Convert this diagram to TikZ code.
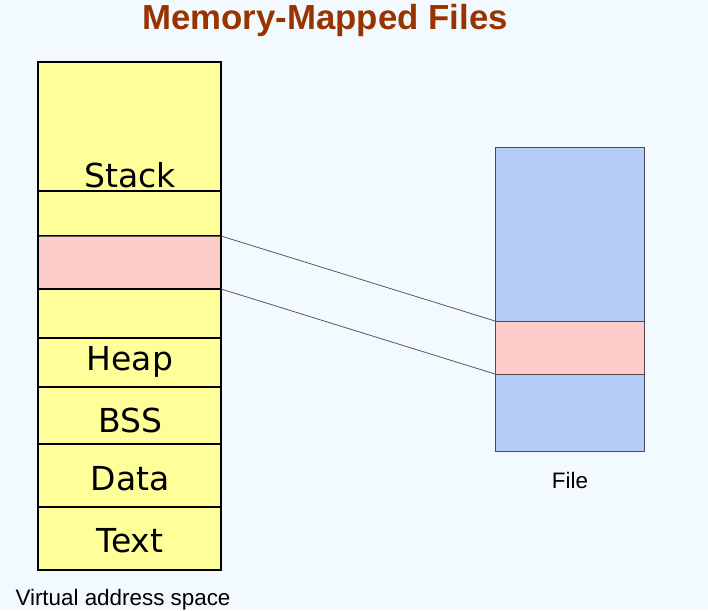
\documentclass[tikz,border=0pt]{standalone}
\usepackage{fontspec}
\setmainfont{Liberation Sans}
\newfontfamily\segfont{DejaVu Sans}
\usetikzlibrary{positioning}
\definecolor{bgblue}{HTML}{F3FAFF}
\definecolor{segyellow}{HTML}{FFFF99}
\definecolor{mappink}{HTML}{FFCCCC}
\definecolor{fileblue}{HTML}{B3CDF8}
\definecolor{titlebrown}{HTML}{993300}

\begin{document}
\begin{tikzpicture}[x=1pt,y=-1pt,
    seg/.style={draw=black, line width=1.3pt, fill=segyellow, minimum width=183pt,
        inner sep=0pt, outer sep=0pt, anchor=north west},
    fseg/.style={draw=black!70, line width=0.8pt, fill=fileblue, minimum width=149pt,
        inner sep=0pt, outer sep=0pt, anchor=north west},
    lbl/.style={anchor=base, inner sep=0pt, font=\segfont\fontsize{33}{33}\selectfont},
    captxt/.style={anchor=base, inner sep=0pt, font=\fontsize{22.4}{22.4}\selectfont}]
            \useasboundingbox[fill=bgblue] (0,0) rectangle (708,610);

            \node[anchor=base, inner sep=0pt, text=titlebrown,
                font=\bfseries\fontsize{34.8}{34.8}\selectfont] (title) at (325,29.5) {Memory-Mapped Files};

            % virtual address space
            \node[seg, minimum height=129pt] (stack) at (38,62) {};
            \node[seg, minimum height=45pt] (gap1) at (stack.south west) {};
            \node[seg, minimum height=53pt, fill=mappink, draw=black!65, line width=0.8pt] (map) at (gap1.south west) {};
            \node[seg, minimum height=49pt] (gap2) at (map.south west) {};
            \node[seg, minimum height=49pt] (heap) at (gap2.south west) {};
            \node[seg, minimum height=57pt] (bss) at (heap.south west) {};
            \node[seg, minimum height=63pt] (data) at (bss.south west) {};
            \node[seg, minimum height=63pt] (text) at (data.south west) {};
            \draw[line width=1.3pt] (stack.north west) rectangle (text.south east);

            \node[lbl] (stacktxt) at (130,187) {Stack};
            \node[lbl] (heaptxt) at (130,370) {Heap};
            \node[lbl] (bsstxt) at (130,432) {BSS};
            \node[lbl] (datatxt) at (130,490) {Data};
            \node[lbl] (texttxt) at (130,552) {Text};
            \node[captxt] (vas) at (123,605) {Virtual address space};

            % file
            \node[fseg, minimum height=174pt] (ftop) at (495,147) {};
            \node[fseg, minimum height=53pt, fill=mappink] (fmap) at (ftop.south west) {};
            \node[fseg, minimum height=77pt] (fbot) at (fmap.south west) {};
            \node[captxt] (file) at (570,488) {File};

            \begin{scope}[black!65, line width=0.8pt]
                \draw (map.north east) -- (fmap.north west);
                \draw (map.south east) -- (fmap.south west);
            \end{scope}
        \end{tikzpicture}
\end{document}
